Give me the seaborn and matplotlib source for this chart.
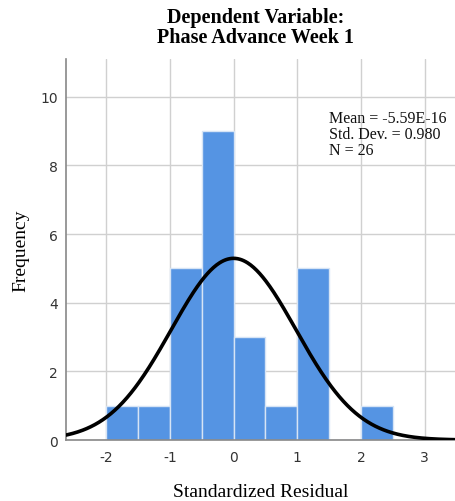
import numpy as np
import pandas as pd
import matplotlib
matplotlib.use("Agg")
import matplotlib.pyplot as plt
import seaborn as sns

# Histogram of standardized residuals (bin width 0.5)
bin_edges = [-2.0, -1.5, -1.0, -0.5, 0.0, 0.5, 1.0, 1.5, 2.0, 2.5]
bin_counts = [1, 1, 5, 9, 3, 1, 5, 0, 1]
mean_val = -5.59e-16
std_val = 0.980
n_obs = 26

x_ticks = [-2, -1, 0, 1, 2, 3]
y_ticks = [0, 2, 4, 6, 8, 10]

sns.set_theme(style="white")
plt.rcParams["font.family"] = ["Liberation Serif", "DejaVu Serif"]
plt.rcParams["text.color"] = "black"
plt.rcParams["axes.labelcolor"] = "black"

fig = plt.figure(figsize=(4.56, 5.02), dpi=100)
ax = fig.add_axes([0.1447, 0.1215, 0.8553, 0.759])

centers = [(a + b) / 2 for a, b in zip(bin_edges[:-1], bin_edges[1:])]
df = pd.DataFrame({"resid": centers, "count": bin_counts})
sns.histplot(data=df, x="resid", weights="count", bins=bin_edges, ax=ax,
             color="#5594E3", alpha=1.0, edgecolor="#D6E4F5", linewidth=1.0,
             zorder=2)

# Normal curve scaled to counts
xs = np.linspace(-2.7, 3.6, 400)
bw = 0.5
ys = n_obs * bw / (std_val * np.sqrt(2 * np.pi)) * np.exp(-0.5 * ((xs - mean_val) / std_val) ** 2)
sns.lineplot(x=xs, y=ys, ax=ax, color="black", linewidth=2.6, zorder=3)

ax.set_xlim(-2.63, 3.49)
ax.set_ylim(0, 11.1)
ax.set_xticks(x_ticks)
ax.set_yticks(y_ticks)
ax.set_xticklabels([str(t) for t in x_ticks], family="DejaVu Sans", fontsize=10, color="#333333")
ax.set_yticklabels([str(t) for t in y_ticks], family="DejaVu Sans", fontsize=10, color="#333333")
ax.tick_params(axis="x", length=0, pad=7)
ax.tick_params(axis="y", length=0, pad=6)

ax.grid(True, color="#D0D0D0", linewidth=1.0, zorder=0)
ax.set_axisbelow(True)
for side in ["top", "right"]:
    ax.spines[side].set_visible(False)
for side in ["left", "bottom"]:
    ax.spines[side].set_color("#888888")
    ax.spines[side].set_linewidth(1.2)

ax.set_xlabel("Standardized Residual", fontsize=14, labelpad=14, color="black")
ax.set_ylabel("Frequency", fontsize=14, labelpad=8, color="black")
fig.suptitle("Dependent Variable:\nPhase Advance Week 1", x=0.56, y=0.985,
             fontsize=14.5, fontweight="bold", linespacing=1.05, color="black")

ax.text(1.49, 9.62,
        f"Mean = {mean_val:.2E}\nStd. Dev. = {std_val:.3f}\nN = {n_obs}",
        fontsize=11.5, va="top", ha="left", linespacing=1.0, color="#111111", zorder=4)

fig.savefig("out.png", dpi=100)
